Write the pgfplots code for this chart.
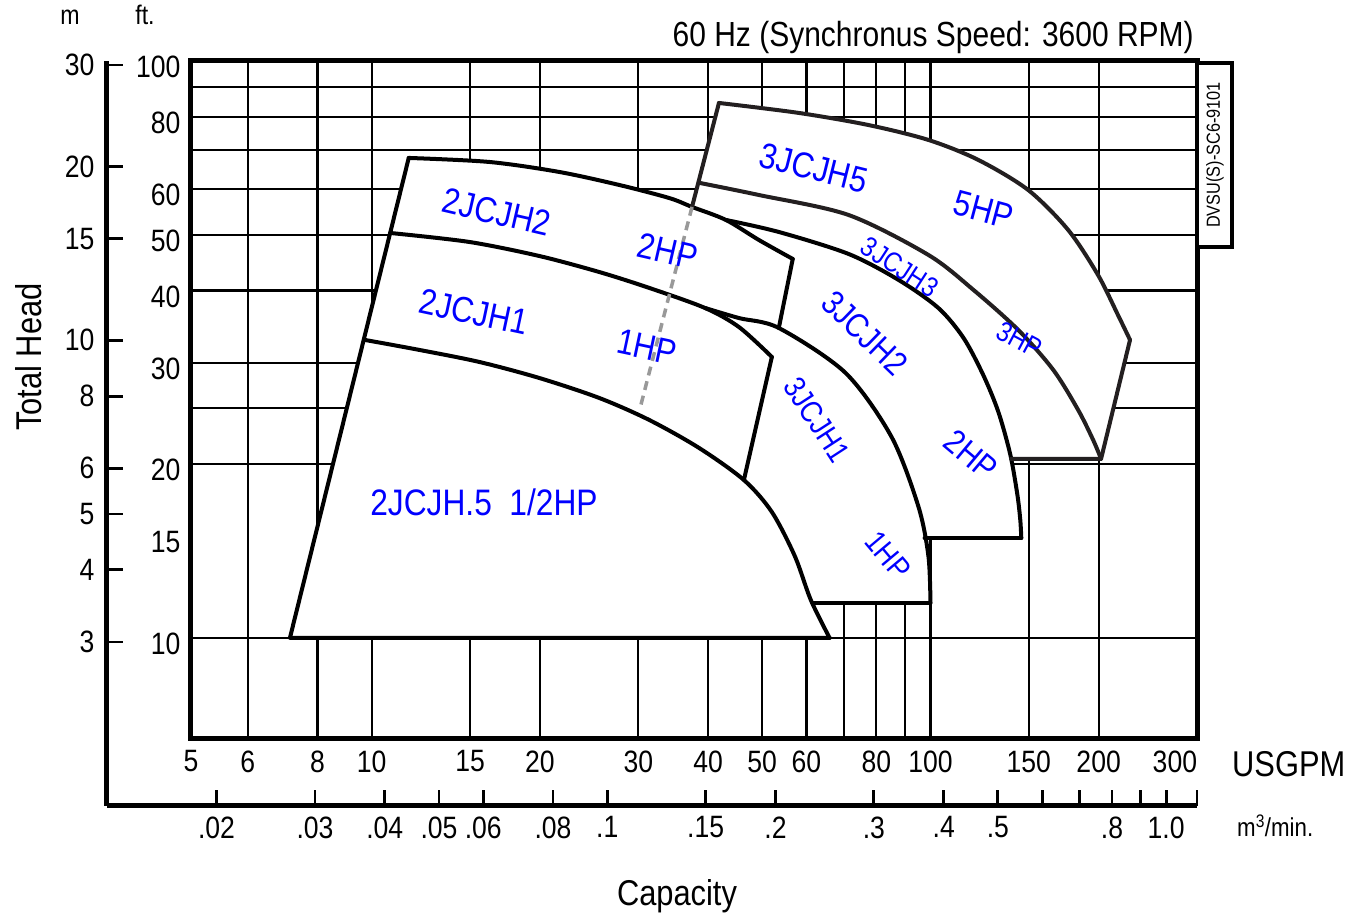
\documentclass[border=0pt]{standalone}
\usepackage{fontspec}
\setmainfont[FakeStretch=0.86]{Liberation Sans}
\usepackage{pgfplots}
\pgfplotsset{compat=1.18}

\definecolor{ink}{RGB}{35,31,32}

\begin{document}
\begin{tikzpicture}
\useasboundingbox (-190bp,-178bp) rectangle (1169bp,739bp);

% secondary scales: metres and m3/min
\begin{axis}[at={(-83bp,-67bp)}, anchor=south west, scale only axis,
  width=1090bp, height=745bp,
  xmode=log, ymode=log, xmin=0.012735, xmax=1.13562, ymin=1.5588, ymax=30.48,
  axis x line=bottom, axis y line=left,
  axis line style={line width=5bp, -},
  tick align=inside, major tick length=16bp, minor tick length=0pt,
  tick style={line width=2.8bp, black},
  xtick={0.02,0.03,0.04,0.05,0.06,0.08,0.1,0.15,0.2,0.3,0.4,0.5,0.6,0.7,0.8,0.9,1.0,1.13562},
  xticklabels={.02,.03,.04,.05,.06,.08,.1,.15,.2,.3,.4,.5,,,.8,,1.0,},
  ytick={3,4,5,6,8,10,15,20,30},
  yticklabels={3,4,5,6,8,10,15,20,30},
  tick label style={font=\fontsize{31}{32}\selectfont},
  xticklabel style={yshift=-7bp},
  yticklabel style={xshift=-9bp},
  /pgf/number format/assume math mode=true]
\end{axis}

% main chart: capacity (USGPM) vs total head (ft)
\begin{axis}[at={(0bp,0bp)}, anchor=south west, scale only axis,
  width=1007bp, height=678bp,
  xmode=log, ymode=log, xmin=4.73, xmax=300, ymin=6.68, ymax=100,
  xtick={6,8,10,15,20,30,40,50,60,70,80,90,100,150,200,300},
  xticklabels={6,8,10,15,20,30,40,50,60,,80,,100,150,200,\llap{300}},
  extra x ticks={5}, extra x tick labels={\llap{5\,}},
  extra x tick style={grid=none},
  ytick={10,20,25,30,40,50,60,70,80,90,100},
  yticklabels={10,20,,30,40,50,60,,80,,100},
  extra y ticks={15}, extra y tick labels={15},
  extra y tick style={grid=none},
  grid=major, major grid style={black, line width=2.2bp},
  axis line style={line width=5bp},
  major tick length=0pt, minor tick length=0pt,
  tick label style={font=\fontsize{31}{32}\selectfont},
  xticklabel style={yshift=-8bp},
  yticklabel style={yshift=-6bp, xshift=-6bp},
  /pgf/number format/assume math mode=true]

% white areas of the operating ranges
\addplot[fill=white, draw=none] coordinates {
 (7.14,10) (9.72,32.85) (12.18,31.56) (15.59,30.08) (19.95,28.22) (25.53,26.06)
 (31.37,23.87) (38.53,21.35) (46.36,18.78) (52.0,16.54) (57.17,13.87)
 (61.07,11.64) (66.0,10)} -- cycle;
\addplot[fill=white, draw=none] coordinates {
 (9.72,32.85) (10.79,50.34) (14.96,48.56) (19.95,45.92) (25.53,43.08) (31.37,40.43)
 (39.49,37.32) (45.41,34.59) (52.02,30.69) (46.36,18.78) (38.53,21.35)
 (31.37,23.87) (25.53,26.06) (19.95,28.22) (15.59,30.08) (12.18,31.56)} -- cycle;
\addplot[fill=white, draw=none] coordinates {
 (10.79,50.34) (11.65,67.92) (16.24,66.83) (21.66,64.22) (27.73,60.97) (34.06,57.88)
 (37.44,55.85) (43.05,53.02) (49.31,48.95) (56.7,45.38) (53.53,34.45)
 (45.41,35.85) (39.49,37.32) (31.37,40.43) (25.53,43.08) (19.95,45.92)
 (14.96,48.56)} -- cycle;
\addplot[fill=white, draw=none] coordinates {
 (39.49,37.32) (45.41,35.85) (53.53,34.45) (70.5,28.79) (85.2,22.30) (95.2,16.87)
 (97.6,14.90) (99.2,13.82) (100,11.50) (61.44,11.50)
 (57.17,13.87) (52.0,16.54) (46.36,18.78) (52.02,30.69) (45.41,34.59)} -- cycle;
\addplot[fill=white, draw=none] coordinates {
 (43.05,53.02) (53.53,50.54) (71.38,46.29) (87.70,41.73) (103.3,37.32) (114.6,33.11)
 (124.3,28.56) (132.3,24.64) (139.0,20.76) (143.1,17.69) (144.8,16.01) (145.4,14.90)
 (97.6,14.90) (95.2,16.87) (85.2,22.30) (70.5,28.79) (53.53,34.45)
 (56.7,45.38) (49.31,48.95)} -- cycle;
\addplot[fill=white, draw=none] coordinates {
 (38.69,61.46) (49.31,58.58) (71.38,54.08) (99.2,46.10) (119.4,40.10) (143.6,34.18)
 (165.9,29.14) (183.8,24.84) (195.5,22.04) (202.0,20.43) (139.4,20.43) (139.0,20.76)
 (132.3,24.64) (124.3,28.56) (114.6,33.11) (103.3,37.32) (87.70,41.73) (71.38,46.29)
 (53.53,50.54) (43.05,53.02) (37.44,55.85)} -- cycle;
\addplot[fill=white, draw=none] coordinates {
 (41.83,84.58) (58.12,81.28) (77.49,77.45) (99.2,72.97) (121.8,67.38) (149.6,59.76)
 (176.4,50.95) (199.5,42.57) (216.6,36.28) (227.6,32.85) (202.0,20.43) (195.5,22.04)
 (183.8,24.84) (165.9,29.14) (143.6,34.18) (119.4,40.10) (99.2,46.10) (71.38,54.08)
 (49.31,58.58) (38.69,61.46)} -- cycle;

% head-capacity curves
\pgfplotsset{every axis plot/.append style={line width=4bp, line cap=round, line join=round}}
\addplot[black, smooth, tension=0.5] coordinates {
 (9.72,32.85) (12.18,31.56) (15.59,30.08) (19.95,28.22) (25.53,26.06) (31.37,23.87)
 (38.53,21.35) (46.36,18.78) (52.0,16.54) (57.17,13.87) (61.07,11.64) (66.0,10)};
\addplot[black, smooth, tension=0.5] coordinates {
 (10.79,50.34) (14.96,48.56) (19.95,45.92) (25.53,43.08) (31.37,40.43) (39.49,37.32)
 (45.41,34.59) (52.02,30.69)};
\addplot[black, smooth, tension=0.5] coordinates {
 (11.65,67.92) (16.24,66.83) (21.66,64.22) (27.73,60.97) (34.06,57.88) (37.44,55.85)
 (43.05,53.02) (49.31,48.95) (56.7,45.38)};
\addplot[black, smooth, tension=0.5] coordinates {
 (39.49,37.32) (45.41,35.85) (53.53,34.45) (70.5,28.79) (85.2,22.30) (95.2,16.87)
 (99.2,13.82) (100,11.50)};
\addplot[black, smooth, tension=0.5] coordinates {
 (43.05,53.02) (53.53,50.54) (71.38,46.29) (87.70,41.73) (103.3,37.32) (114.6,33.11)
 (124.3,28.56) (132.3,24.64) (139.0,20.76) (143.1,17.69) (144.8,16.01) (145.4,14.90)};
\addplot[ink, smooth, tension=0.5] coordinates {
 (38.69,61.46) (49.31,58.58) (71.38,54.08) (99.2,46.10) (119.4,40.10) (143.6,34.18)
 (165.9,29.14) (183.8,24.84) (195.5,22.04) (202.0,20.43)};
\addplot[ink, smooth, tension=0.5] coordinates {
 (41.83,84.58) (58.12,81.28) (77.49,77.45) (99.2,72.97) (121.8,67.38) (149.6,59.76)
 (176.4,50.95) (199.5,42.57) (216.6,36.28) (227.6,32.85)};

% straight limits of the ranges
\addplot[black] coordinates {(66.0,10) (7.14,10) (11.65,67.92)};
\addplot[black] coordinates {(52.02,30.69) (46.36,18.78)};
\addplot[black] coordinates {(56.7,45.38) (53.53,34.45)};
\addplot[black] coordinates {(61.44,11.50) (100,11.50)};
\addplot[black] coordinates {(97.6,14.90) (145.4,14.90)};
\addplot[ink] coordinates {(139.4,20.43) (202.0,20.43) (227.6,32.85)};
\addplot[ink] coordinates {(41.83,84.58) (37.44,55.85)};

% dashed divider
\addplot[draw=gray!80, line width=3.5bp, line cap=butt, dash pattern=on 9bp off 6bp] coordinates {
 (37.44,55.85) (30.23,25.04)};
\end{axis}

% curve labels
\begin{scope}[every node/.style={text=blue, inner sep=0pt}]
\node[font=\fontsize{37}{37}\selectfont] at (294bp,237bp) {2JCJH.5\ \ 1/2HP};
\node[font=\fontsize{36}{36}\selectfont, rotate=-13] at (307bp,527bp) {2JCJH2};
\node[font=\fontsize{36}{36}\selectfont, rotate=-13] at (478bp,488bp) {2HP};
\node[font=\fontsize{36}{36}\selectfont, rotate=-12] at (284bp,427bp) {2JCJH1};
\node[font=\fontsize{36}{36}\selectfont, rotate=-12] at (457bp,392bp) {1HP};
\node[font=\fontsize{36}{36}\selectfont, rotate=-14] at (624bp,571bp) {3JCJH5};
\node[font=\fontsize{36}{36}\selectfont, rotate=-15] at (794bp,529bp) {5HP};
\node[font=\fontsize{28}{28}\selectfont, rotate=-33] at (710bp,472bp) {3JCJH3};
\node[font=\fontsize{28}{28}\selectfont, rotate=-28] at (830bp,399bp) {3HP};
\node[font=\fontsize{34}{34}\selectfont, rotate=-44] at (675bp,406bp) {3JCJH2};
\node[font=\fontsize{34}{34}\selectfont, rotate=-40] at (781bp,284bp) {2HP};
\node[font=\fontsize{31}{31}\selectfont, rotate=-57] at (627bp,319bp) {3JCJH1};
\node[font=\fontsize{31}{31}\selectfont, rotate=-50] at (698bp,184bp) {1HP};
\end{scope}

% titles and unit labels
\node[anchor=base east, font=\fontsize{35}{35}\selectfont, inner sep=0pt] at (1004bp,692bp) {60 Hz (Synchronus Speed: 3600 RPM)};
\node[anchor=base, font=\fontsize{27}{27}\selectfont, inner sep=0pt] at (-120bp,714bp) {m};
\node[anchor=base, font=\fontsize{27}{27}\selectfont, inner sep=0pt] at (-45bp,714bp) {ft.};
\node[anchor=base west, font=\fontsize{36}{36}\selectfont, inner sep=0pt] at (1042bp,-37bp) {USGPM};
\node[anchor=base west, font=\fontsize{26}{26}\selectfont, inner sep=0pt] at (1047bp,-97bp) {m\textsuperscript{3}/min.};
\node[anchor=base, font=\fontsize{36}{36}\selectfont, inner sep=0pt] at (487bp,-166bp) {Capacity};
\node[anchor=base, rotate=90, font=\fontsize{36}{36}\selectfont, inner sep=0pt] at (-148bp,382bp) {Total Head};

% drawing code box
\draw[line width=4.5bp, fill=white] (1007bp,492bp) rectangle (1042bp,676bp);
\node[rotate=90, font=\fontsize{19}{19}\selectfont, inner sep=0pt] at (1025bp,584bp) {DVSU(S)-SC6-9101};
\end{tikzpicture}
\end{document}
